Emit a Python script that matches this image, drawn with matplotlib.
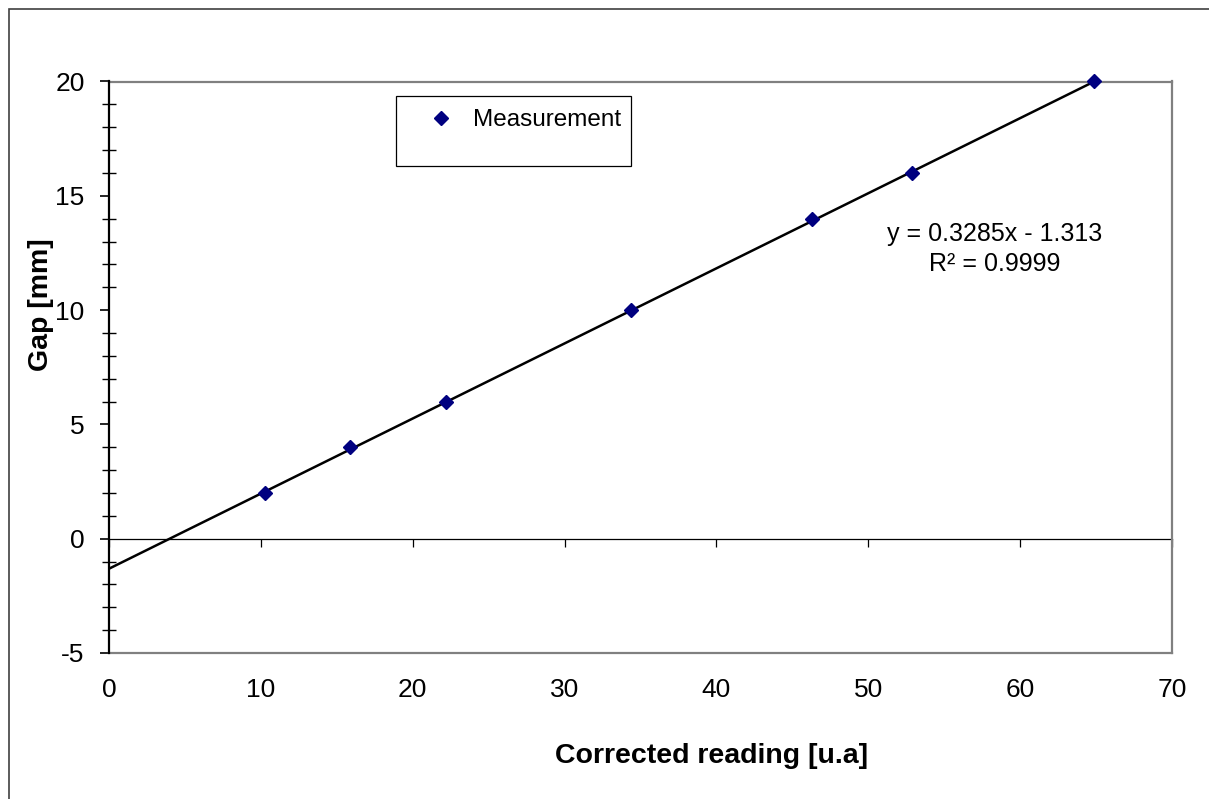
import matplotlib
matplotlib.use("Agg")
import matplotlib.pyplot as plt
from matplotlib.patches import Rectangle
from matplotlib.ticker import MultipleLocator

plt.rcParams["font.family"] = ["Liberation Sans", "DejaVu Sans"]
plt.rcParams["axes.unicode_minus"] = False

# Calibration measurements
reading = [10.3, 15.9, 22.2, 34.4, 46.3, 52.9, 64.85]   # corrected reading [u.a]
gap = [2, 4, 6, 10, 14, 16, 20]                        # gap [mm]

# Linear trend line
slope = 0.3285
intercept = -1.313
r_squared = 0.9999

x_ticks = [0, 10, 20, 30, 40, 50, 60, 70]
y_ticks = [-5, 0, 5, 10, 15, 20]

W, H = 1209, 799
fig = plt.figure(figsize=(W / 100, H / 100), dpi=100)
ax = fig.add_axes([109 / W, 1 - 653 / H, (1172 - 109) / W, (653 - 81.5) / H])

# outer chart frame
fig.patches.append(Rectangle((9 / W, -0.1), 1.2, 1 - 9 / H + 0.1,
                             transform=fig.transFigure, fill=False,
                             edgecolor="#404040", linewidth=1.2, zorder=0))

# trend line and points
x_end = max(reading)
ax.plot([0, x_end], [intercept, slope * x_end + intercept],
        color="black", linewidth=1.8, zorder=3)
ax.plot(reading, gap, linestyle="none", marker="D", markersize=7,
        color="#000080", zorder=4, label="Measurement", clip_on=False)

ax.set_xlim(0, 70)
ax.set_ylim(-5, 20)

# plot area border
for side in ("top", "right", "bottom"):
    ax.spines[side].set_color("#808080")
    ax.spines[side].set_linewidth(1.6)
ax.spines["left"].set_color("black")
ax.spines["left"].set_linewidth(1.6)
ax.spines["left"].set_zorder(5)

# x tick labels along the bottom, tick marks on the zero line
ax.set_xticks(x_ticks)
ax.tick_params(axis="x", length=0, pad=18, labelsize=19)
zero_axis = ax.secondary_xaxis(0.2)
zero_axis.set_xticks(x_ticks)
zero_axis.tick_params(axis="x", direction="out", length=5.5, width=0.9,
                      labelbottom=False, color="black")
zero_axis.spines["bottom"].set_linewidth(0.9)
zero_axis.spines["bottom"].set_color("black")

ax.set_yticks(y_ticks)
ax.yaxis.set_minor_locator(MultipleLocator(1))
ax.tick_params(axis="y", which="major", direction="out", length=6.5, width=1.2,
               pad=11, labelsize=19)
ax.tick_params(axis="y", which="minor", direction="inout", length=10.5, width=1.0)

ax.set_ylabel("Gap [mm]", fontsize=20.5, fontweight="bold")
ax.yaxis.set_label_coords(-0.052, 0.609)
ax.set_xlabel("Corrected reading [u.a]", fontsize=20.5, fontweight="bold")
ax.xaxis.set_label_coords(0.567, -0.158)

# equation of the trend line
ax.text(0.8335, 0.707,
        f"y = {slope}x - {abs(intercept)}\nR\u00b2 = {r_squared}",
        transform=ax.transAxes, ha="center", va="center",
        multialignment="center", fontsize=18, linespacing=1.35)

# legend
fig.patches.append(Rectangle((396 / W, 1 - 166 / H), (631 - 396) / W, 70 / H,
                             transform=fig.transFigure, fill=False,
                             edgecolor="black", linewidth=0.9, zorder=5))
fig.legend(loc="center left", bbox_to_anchor=(429 / W, 1 - 120 / H),
           bbox_transform=fig.transFigure, frameon=False, fontsize=17.5,
           handlelength=1.0, handletextpad=0.8, borderpad=0, borderaxespad=0)

fig.savefig("out.png", dpi=100, facecolor="white")
